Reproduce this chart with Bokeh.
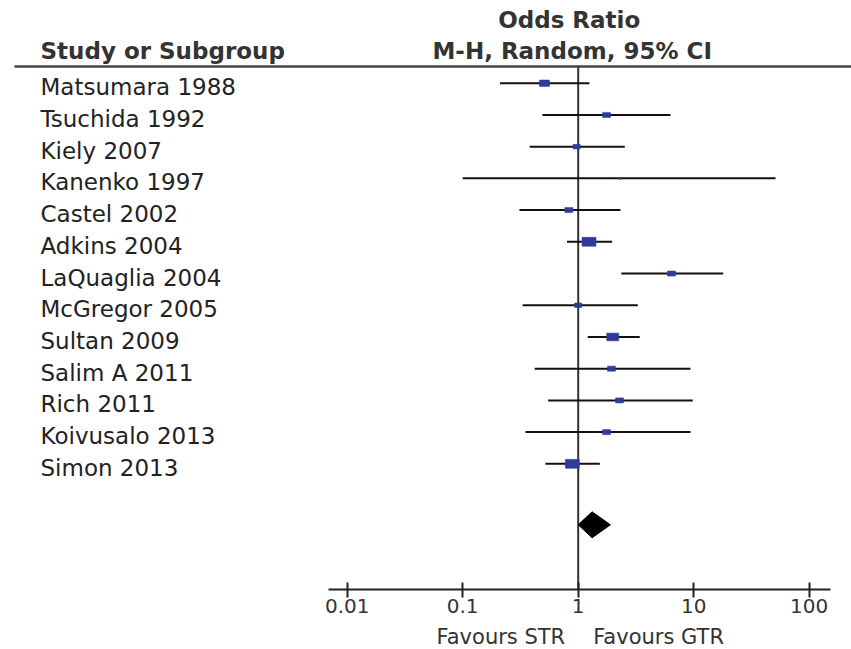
from bokeh.plotting import figure
from bokeh.layouts import column
from bokeh.models import (Range1d, FixedTicker, CustomJSTickFormatter, Label,
                          LabelSet, ColumnDataSource)
from bokeh.core.properties import value
from bokeh.embed import file_html
from bokeh.resources import INLINE

# ---------------- data ----------------
studies = ["Matsumara 1988", "Tsuchida 1992", "Kiely 2007", "Kanenko 1997",
           "Castel 2002", "Adkins 2004", "LaQuaglia 2004", "McGregor 2005",
           "Sultan 2009", "Salim A 2011", "Rich 2011", "Koivusalo 2013",
           "Simon 2013"]
odds_ratio = [0.51, 1.76, 0.97, 2.32, 0.83, 1.24, 6.42, 1.00, 1.99, 1.94, 2.28, 1.76, 0.89]
ci_low = [0.21, 0.49, 0.38, 0.10, 0.31, 0.80, 2.36, 0.33, 1.21, 0.42, 0.55, 0.35, 0.52]
ci_high = [1.25, 6.30, 2.53, 51.1, 2.32, 1.97, 18.0, 3.28, 3.41, 9.38, 9.82, 9.38, 1.54]
weights = [8.0, 5.0, 4.0, 0.7, 5.0, 15.5, 5.0, 4.0, 11.5, 5.0, 5.0, 5.0, 15.5]
total_or = 1.32
total_low = 1.00
total_high = 1.90
tick_values = [0.01, 0.1, 1, 10, 100]
tick_labels = ["0.01", "0.1", "1", "10", "100"]
favours_left = "Favours STR"
favours_right = "Favours GTR"

# ---------------- layout constants ----------------
W, H = 851, 649
PX_ONE = 577.7       # screen x of OR = 1
PX_DECADE = 115.5    # pixels per decade
ROW0_PX = 82.7       # screen y of first study row
ROW_PX = 31.72       # row spacing
AXIS_PX = 589        # screen y of x axis
AXIS_PANEL = 33      # height reserved for the axis under the frame
FOOT_H = H - AXIS_PX - AXIS_PANEL   # strip for the "Favours" texts


def px_to_x(px):
    return 10 ** ((px - PX_ONE) / PX_DECADE)


def py_to_row(py):
    return (py - ROW0_PX) / ROW_PX


rows = list(range(len(studies)))
sizes_w = [3.55 * w ** 0.5 for w in weights]
sizes_h = [0.64 * s for s in sizes_w]

src = ColumnDataSource(dict(study=studies, row=rows, orr=odds_ratio,
                            lo=ci_low, hi=ci_high, sw=sizes_w, sh=sizes_h))

p = figure(width=W, height=AXIS_PX + AXIS_PANEL, x_axis_type="log",
           x_range=Range1d(px_to_x(0), px_to_x(W)),
           y_range=Range1d(py_to_row(AXIS_PX), py_to_row(0)),
           y_axis_location=None, toolbar_location=None, output_backend="svg",
           min_border_left=0, min_border_right=0, min_border_top=0,
           min_border_bottom=AXIS_PANEL, outline_line_color=None,
           background_fill_color="white", border_fill_color="white")
p.grid.visible = False

header_row = py_to_row(66)

# header rule
p.segment(x0=[px_to_x(14)], x1=[px_to_x(W)], y0=[header_row], y1=[header_row],
          line_color="#444444", line_width=2.5)
# line of no effect
p.segment(x0=[1], x1=[1], y0=[header_row], y1=[py_to_row(AXIS_PX)],
          line_color="#333333", line_width=2)

# confidence intervals
p.segment(x0="lo", x1="hi", y0="row", y1="row", source=src,
          line_color="#111111", line_width=2)
# study markers
p.rect(x="orr", y="row", width="sw", height="sh", width_units="screen",
       height_units="screen", source=src, fill_color="#2E3A9C",
       line_color="#2E3A9C", line_width=0.5)

# pooled diamond
dy = py_to_row(524.3)
half_h = 13 / ROW_PX
p.patch(x=[total_low, total_or, total_high, total_or],
        y=[dy, dy - half_h, dy, dy + half_h], fill_color="black", line_color="black")

# study labels
labels = LabelSet(x=40, y="row", x_units="screen", text="study", source=src,
                  y_offset=-12, text_baseline="alphabetic", text_align="left",
                  text_font=value("DejaVu Sans"), text_font_size=value("23px"),
                  text_color=value("#222222"))
p.add_layout(labels)

hdr_style = dict(text_font="DejaVu Sans", text_font_size="23px",
                 text_font_style="bold", text_color="#333333",
                 text_baseline="alphabetic")
p.add_layout(Label(x=40, x_units="screen", y=py_to_row(50), text="Study or Subgroup",
                   text_align="left", **hdr_style))
p.add_layout(Label(x=1, y=py_to_row(19), x_offset=-9, text="Odds Ratio",
                   text_align="center", **hdr_style))
p.add_layout(Label(x=1, y=py_to_row(50), x_offset=-6, text="M-H, Random, 95% CI",
                   text_align="center", **hdr_style))

# x axis
ax = p.xaxis[0]
ax.ticker = FixedTicker(ticks=tick_values, minor_ticks=[])
ax.formatter = CustomJSTickFormatter(args=dict(vals=tick_values, labs=tick_labels),
                                     code="""
for (let i = 0; i < vals.length; i++) {
  if (Math.abs(Math.log10(tick) - Math.log10(vals[i])) < 1e-6) { return labs[i]; }
}
return String(tick);
""")
ax.bounds = (px_to_x(328), px_to_x(830))
ax.axis_line_width = 2
ax.axis_line_color = "#222222"
ax.major_tick_in = 7
ax.major_tick_out = 8
ax.major_tick_line_width = 2
ax.major_tick_line_color = "#222222"
ax.minor_tick_line_color = None
ax.major_label_text_font = "DejaVu Sans"
ax.major_label_text_font_size = "20px"
ax.major_label_text_color = "#333333"
ax.major_label_standoff = 1

# footer strip with the "Favours" texts, sharing the x scale
f = figure(width=W, height=FOOT_H, x_axis_type="log", x_range=p.x_range,
           y_range=Range1d(FOOT_H, 0), x_axis_location=None, y_axis_location=None,
           toolbar_location=None, output_backend="svg",
           min_border_left=0, min_border_right=0, min_border_top=0,
           min_border_bottom=0, outline_line_color=None,
           background_fill_color="white", border_fill_color="white")
f.grid.visible = False
fav_y = 636 - (AXIS_PX + AXIS_PANEL)
fav_style = dict(text_font=value("DejaVu Sans"), text_font_size=value("21px"),
                 text_color="#333333", text_baseline="middle")
f.text(x=[1], y=[fav_y], text=[favours_left], text_align="right", x_offset=-13,
       **fav_style)
f.text(x=[1], y=[fav_y], text=[favours_right], text_align="left", x_offset=15,
       **fav_style)

layout = column(p, f, spacing=0)
open("out.html", "w").write(file_html(layout, INLINE))
